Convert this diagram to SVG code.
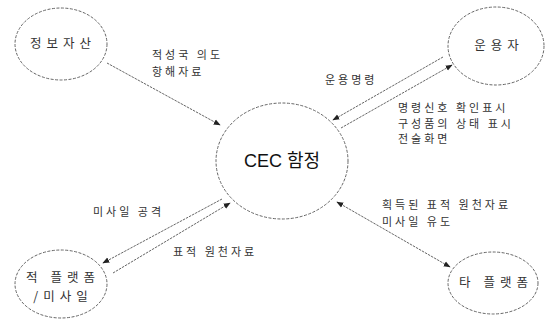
<svg xmlns="http://www.w3.org/2000/svg" width="549" height="325" viewBox="0 0 549 325">
<style>
.node{fill:#fff;stroke:#666;stroke-width:1;stroke-dasharray:3,1.5}
.t{font-family:"Noto Sans CJK KR","Liberation Sans",sans-serif;fill:#333;font-size:11px;letter-spacing:3px}
.n{font-family:"Noto Sans CJK KR","Liberation Sans",sans-serif;fill:#333;font-size:12.5px;letter-spacing:5px;text-anchor:middle}
.c{font-family:"Liberation Sans","Noto Sans CJK KR",sans-serif;fill:#111;font-size:18px;text-anchor:middle}
.e{fill:none;stroke:#555;stroke-width:0.9;stroke-dasharray:2.5,1}
</style>
<defs>
<marker id="ah" viewBox="0 0 10 10" refX="9" refY="5" markerWidth="7" markerHeight="7" orient="auto-start-reverse" markerUnits="userSpaceOnUse">
<path d="M0,1 L10,5 L0,9 Z" fill="#222"/>
</marker>
</defs>
<g id="connectors">
<line class="e" x1="107" y1="63" x2="220" y2="125" marker-end="url(#ah)"/>
<line class="e" x1="443" y1="57" x2="333" y2="120" marker-end="url(#ah)"/>
<line class="e" x1="341" y1="128" x2="452" y2="65" marker-end="url(#ah)"/>
<line class="e" x1="222" y1="199" x2="103" y2="263" marker-end="url(#ah)"/>
<line class="e" x1="113" y1="273" x2="230" y2="203" marker-end="url(#ah)"/>
<line class="e" x1="337" y1="202" x2="450" y2="267" marker-start="url(#ah)" marker-end="url(#ah)"/>
<text class="t" x="152" y="59">적성국 의도</text>
<text class="t" x="152" y="76">항해자료</text>
<text class="t" x="325" y="84">운용명령</text>
<text class="t" x="398" y="112">명령신호 확인표시</text>
<text class="t" x="398" y="128">구성품의 상태 표시</text>
<text class="t" x="398" y="143">전술화면</text>
<text class="t" x="93" y="216">미사일 공격</text>
<text class="t" x="173" y="256">표적 원천자료</text>
<text class="t" x="382" y="209">획득된 표적 원천자료</text>
<text class="t" x="382" y="226">미사일 유도</text>
</g>
<g id="node-info">
<ellipse class="node" cx="61" cy="44" rx="46" ry="36"/>
<text class="n" x="63" y="48">정보자산</text>
</g>
<g id="node-operator">
<ellipse class="node" cx="496" cy="46" rx="48" ry="39"/>
<text class="n" x="499" y="50">운용자</text>
</g>
<g id="node-cec">
<ellipse class="node" cx="282" cy="161" rx="66" ry="58"/>
<text class="c" x="282" y="167">CEC 함정</text>
</g>
<g id="node-enemy">
<ellipse class="node" cx="61" cy="284" rx="46" ry="34"/>
<text class="n" x="63" y="282">적 플랫폼</text>
<text class="n" x="63" y="301">/미사일</text>
</g>
<g id="node-other">
<ellipse class="node" cx="493" cy="283" rx="45" ry="31"/>
<text class="n" x="496" y="287">타 플랫폼</text>
</g>
</svg>
